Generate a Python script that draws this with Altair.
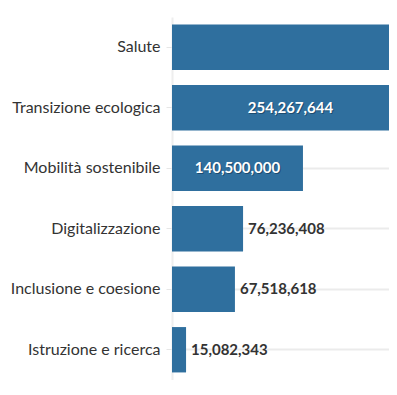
import altair as alt
import pandas as pd

categories = ["Salute", "Transizione ecologica", "Mobilità sostenibile",
              "Digitalizzazione", "Inclusione e coesione", "Istruzione e ricerca"]
values = [620000000, 254267644, 140500000, 76236408, 67518618, 15082343]
label_texts = ["620,000,000", "254,267,644", "140,500,000",
               "76,236,408", "67,518,618", "15,082,343"]

X_MAX = 232800000

df = pd.DataFrame({"cat": categories, "val": values, "lab": label_texts})
df["half"] = df["val"] / 2
df["inside"] = df["val"] > 100000000

BAR = "#2f6f9e"
FONT = "Lato"

y_enc = alt.Y("cat:N", sort=categories, title=None,
              scale=alt.Scale(paddingInner=0.25, paddingOuter=0.125),
              axis=alt.Axis(labelFont=FONT, labelFontSize=16, labelColor="#333333",
                            labelPadding=6, tickSize=6, tickColor="#e6e6e6",
                            domainColor="#eeeeee", domainWidth=2,
                            grid=True, gridColor="#ebebeb", gridWidth=2,
                            labelLimit=300))
x_scale = alt.Scale(domain=[0, X_MAX])

base = alt.Chart(df)

bars = base.mark_bar(color=BAR, clip=True).encode(
    y=y_enc,
    x=alt.X("val:Q", scale=x_scale, axis=None),
)

# labels whose centre falls outside the visible plot are not shown
inside = base.transform_filter(f"datum.inside && datum.half < {X_MAX * 0.8}")
shadow = inside.mark_text(font=FONT, fontSize=15, fontWeight="bold", color="#163d5c",
                          opacity=0.7, dx=1, dy=1, clip=True).encode(
    y=alt.Y("cat:N", sort=categories),
    x=alt.X("half:Q", scale=x_scale),
    text="lab:N",
)
inner = inside.mark_text(font=FONT, fontSize=15, fontWeight="bold", color="white",
                         clip=True).encode(
    y=alt.Y("cat:N", sort=categories),
    x=alt.X("half:Q", scale=x_scale),
    text="lab:N",
)
outer = base.transform_filter("!datum.inside").mark_text(
    font=FONT, fontSize=15, fontWeight="bold", color="#333333", align="left", dx=5,
    clip=True).encode(
    y=alt.Y("cat:N", sort=categories),
    x=alt.X("val:Q", scale=x_scale),
    text="lab:N",
)

chart = alt.layer(bars, shadow, inner, outer).properties(
    width=217, height=363,
    autosize=alt.AutoSizeParams(type="none"),
    padding={"left": 164, "top": 9, "right": 0, "bottom": 0},
).configure_view(stroke=None)

chart.save("out.html", embed_options={"renderer": "svg", "actions": False})
